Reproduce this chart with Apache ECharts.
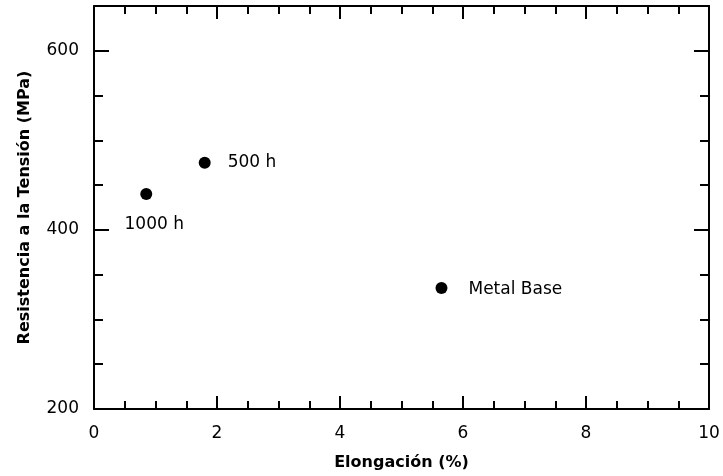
<!DOCTYPE html>
<html>
<head>
<meta charset="utf-8">
<script src="https://cdn.jsdelivr.net/npm/echarts@6/dist/echarts.min.js"></script>
<style>html,body{margin:0;padding:0;background:#fff}#c{width:723px;height:476px}</style>
</head>
<body>
<div id="c"></div>
<script>
var pointNames = ['1000 h', '500 h', 'Metal Base'];
var elongation = [0.85, 1.8, 5.65];
var tensileStrength = [440, 475, 335];
var xTicks = [0, 2, 4, 6, 8, 10];
var yTicks = [200, 400, 600];

var FONT = 'DejaVu Sans';
var labelPos = {
  '1000 h': {position: 'bottom', distance: 16, offset: [8, 0]},
  '500 h': {position: 'right', distance: 17, offset: [0, 0]},
  'Metal Base': {position: 'right', distance: 21, offset: [0, 1]}
};

var data = pointNames.map(function (n, i) {
  var lp = labelPos[n];
  return {
    name: n,
    value: [elongation[i], tensileStrength[i]],
    label: {show: true, formatter: n, position: lp.position, distance: lp.distance, offset: lp.offset,
      color: '#000', fontFamily: FONT, fontSize: 17}
  };
});

function xAx(pos, showLabels) {
  return {
    type: 'value', position: pos, min: 0, max: 10, interval: 2,
    name: showLabels ? 'Elongación (%)' : '', nameLocation: 'middle', nameGap: 46,
    nameTextStyle: {fontFamily: FONT, fontWeight: 'bold', fontSize: 16, color: '#000'},
    axisLine: {show: true, onZero: false, lineStyle: {color: '#000', width: 2}},
    axisTick: {show: true, inside: true, length: 13, lineStyle: {color: '#000', width: 2}},
    minorTick: {show: true, splitNumber: 4, length: 8, lineStyle: {color: '#000', width: 2}},
    axisLabel: {show: showLabels, margin: 16, fontFamily: FONT, fontSize: 17, color: '#000',
      formatter: function (v) { return xTicks.indexOf(v) >= 0 ? String(v) : ''; }},
    splitLine: {show: false}, minorSplitLine: {show: false}
  };
}
function yAx(pos, showLabels) {
  return {
    type: 'value', position: pos, min: 200, max: 650, interval: 200,
    name: showLabels ? 'Resistencia a la Tensión (MPa)' : '', nameLocation: 'middle', nameGap: 61,
    nameTextStyle: {fontFamily: FONT, fontWeight: 'bold', fontSize: 16, color: '#000'},
    axisLine: {show: true, onZero: false, lineStyle: {color: '#000', width: 2}},
    axisTick: {show: true, inside: true, length: 15, lineStyle: {color: '#000', width: 2}},
    minorTick: {show: true, splitNumber: 4, length: 9, lineStyle: {color: '#000', width: 2}},
    axisLabel: {show: showLabels, margin: 15, fontFamily: FONT, fontSize: 17, color: '#000',
      showMaxLabel: false,
      formatter: function (v) { return yTicks.indexOf(v) >= 0 ? String(v) : ''; }},
    splitLine: {show: false}, minorSplitLine: {show: false}
  };
}

var chart = echarts.init(document.getElementById('c'), null, {renderer: 'canvas'});
chart.setOption({
  animation: false,
  backgroundColor: '#fff',
  grid: {left: 94, right: 14, top: 6, bottom: 67},
  xAxis: [xAx('bottom', true), xAx('top', false)],
  yAxis: [yAx('left', true), yAx('right', false)],
  series: [{
    type: 'scatter', xAxisIndex: 0, yAxisIndex: 0,
    symbol: 'circle', symbolSize: 12,
    itemStyle: {color: '#000', opacity: 1},
    data: data
  }]
});
</script>
</body>
</html>
